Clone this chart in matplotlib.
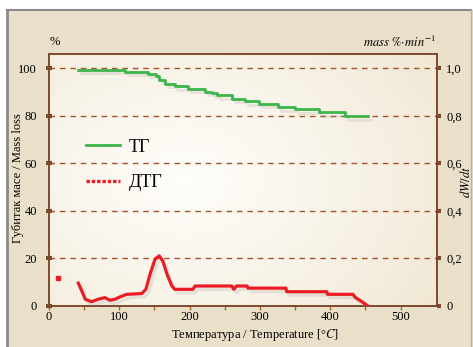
import numpy as np
import matplotlib
matplotlib.use("Agg")
import matplotlib.pyplot as plt
from matplotlib.lines import Line2D
import matplotlib.patheffects as pe

plt.rcParams['font.family'] = ['Liberation Serif', 'DejaVu Serif']
plt.rcParams['mathtext.fontset'] = 'stix'

# TG curve (mass %), stepwise
tg_temp = [42, 108, 141, 153, 157, 165, 179, 198, 222, 232, 239, 260, 279, 299, 326, 350, 384, 421, 453]
tg_mass = [99.5, 98.6, 97.8, 96.9, 95.3, 93.6, 92.5, 91.5, 90.1, 89.6, 88.7, 87.3, 86.1, 85.0, 83.7, 82.7, 81.5, 79.9, 79.9]

# DTG curve (mass %/min)
dtg_temp = [42, 47, 52, 61, 70, 80, 87, 94, 101, 111, 132, 138, 144, 151, 157, 162, 168, 175, 179,
            205, 208, 260, 263, 267, 282, 283, 337, 338, 395, 396, 432, 436, 445, 453]
dtg_rate = [0.095, 0.062, 0.027, 0.017, 0.027, 0.034, 0.023, 0.027, 0.037, 0.048, 0.051, 0.069, 0.133,
            0.196, 0.210, 0.189, 0.133, 0.083, 0.069, 0.069, 0.083, 0.083, 0.069, 0.083, 0.083, 0.074,
            0.074, 0.059, 0.059, 0.048, 0.048, 0.034, 0.017, 0.0]
dtg_outlier_temp = [13]
dtg_outlier_rate = [0.118]

left_ticks = [0, 20, 40, 60, 80, 100]
right_ticks = [0, 0.2, 0.4, 0.6, 0.8, 1.0]
right_labels = ['0', '0,2', '0,4', '0,6', '0,8', '1,0']
x_ticks = [0, 100, 200, 300, 400, 500]

brown = '#7b4a2c'
grid_col = '#a5532a'
green = '#3cb54a'
red = '#ec1c24'

fig = plt.figure(figsize=(4.73, 3.47), dpi=100)
fig.patch.set_facecolor('white')
# beige panel with grey border on top/left
fig.add_artist(plt.Rectangle((7/473, 0), 1, 337/347, transform=fig.transFigure,
                             facecolor='#eadfc8', edgecolor='none', zorder=-10))
fig.add_artist(Line2D([7/473, 7/473], [0, 337/347], color='#8a8a8a', lw=2, transform=fig.transFigure))
fig.add_artist(Line2D([7/473, 471/473], [337/347, 337/347], color='#8a8a8a', lw=1.5, transform=fig.transFigure))
fig.add_artist(Line2D([471/473, 471/473], [0, 337/347], color='#b0b0b0', lw=1, transform=fig.transFigure))

ax = fig.add_axes([0.103, 0.119, 0.820, 0.725])
ax.set_facecolor('#f3ead8')

# soft light background inside the plot area
gx, gy = np.meshgrid(np.linspace(0, 1, 200), np.linspace(0, 1, 150))
d = np.sqrt(((gx - 0.35) / 0.8) ** 2 + ((gy - 0.5) / 0.9) ** 2)
w = np.clip(1 - d, 0, 1) ** 0.8
base = np.array([0.94, 0.90, 0.82])
img = base[None, None, :] * (1 - w[..., None]) + np.array([1.0, 0.995, 0.98])[None, None, :] * w[..., None]
ax.imshow(img, extent=[0, 1, 0, 1], transform=ax.transAxes, aspect='auto', zorder=0)

ax.set_xlim(0, 551)
ax.set_ylim(0, 106)

for v in left_ticks[1:]:
    ax.axhline(v, color=grid_col, lw=1, ls=(0, (4, 3.5)), zorder=1)

shadow = [pe.SimpleLineShadow(offset=(2, -2.5), shadow_color='#999999', alpha=0.2), pe.Normal()]

ax.plot(tg_temp, tg_mass, color=green, lw=2, drawstyle='steps-post', zorder=3,
        path_effects=shadow)

ax2 = ax.twinx()
ax2.set_ylim(0, 1.06)
ax2.plot(dtg_temp, dtg_rate, color=red, lw=2.3, zorder=3, path_effects=shadow)
ax2.plot(dtg_outlier_temp, dtg_outlier_rate, 's', color=red, ms=2.5, zorder=3)

for a in (ax, ax2):
    for s in a.spines.values():
        s.set_color(brown)
        s.set_linewidth(1.2)

ax.set_yticks(left_ticks)
ax.set_yticklabels([str(v) for v in left_ticks])
ax.tick_params(axis='y', direction='inout', length=5, width=3, color=brown, pad=6, labelsize=9)
ax.set_xticks(x_ticks)
ax.set_xticks(np.arange(50, 501, 50), minor=True)
ax.tick_params(axis='x', which='both', direction='out', length=3, width=1, color='#b5621e', pad=1, labelsize=9)

ax2.set_yticks(right_ticks)
ax2.set_yticklabels(right_labels)
ax2.tick_params(axis='y', direction='out', length=3, width=3, color=brown, pad=4, labelsize=9)

leg_handles = [Line2D([], [], color=green, lw=2),
               Line2D([], [], color=red, lw=2.4, ls=(0, (1, 0.6)))]
ax.legend(leg_handles, ['ТГ', 'ДТГ'], loc='center left', bbox_to_anchor=(0.095, 0.56),
          frameon=False, fontsize=13, handlelength=1.9, handletextpad=0.5,
          labelspacing=1.0, borderpad=0, borderaxespad=0)

fig.text(55/473, 1 - 42/347, '%', fontsize=9, ha='center', va='center')
fig.text(436/473, 1 - 42/347, r'$\mathit{mass}\ \%\!\cdot\!\mathit{min}^{-1}$', fontsize=9,
         ha='right', va='center')
fig.text(466/473, 1 - 182/347, r'$dW/dt$', fontsize=9, rotation=90, ha='center', va='center')
fig.text(18/473, 1 - 178/347, 'Губитак масе / Mass loss', fontsize=9, rotation=90,
         ha='center', va='center')
fig.text(255/473, 1 - 335/347, r'Температура / Temperature [°$\mathit{C}$]', fontsize=9,
         ha='center', va='center')

fig.savefig('out.png', dpi=100)
